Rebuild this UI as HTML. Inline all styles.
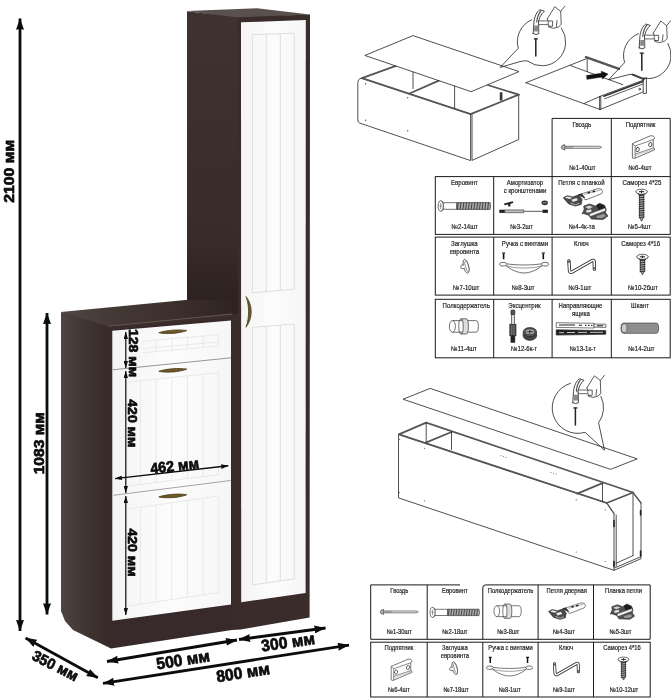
<!DOCTYPE html>
<html lang="ru"><head><meta charset="utf-8"><title>Шкаф — размеры и сборка</title>
<style>
html,body{margin:0;padding:0;background:#fff;width:671px;height:700px;overflow:hidden}
svg{display:block;position:absolute;left:0;top:0;filter:blur(0.45px)}
text{font-family:"Liberation Sans",sans-serif}
.dim{font-weight:bold;font-size:15px;fill:#0c0c0c;stroke:#0c0c0c;stroke-width:0.7px;stroke-linejoin:round}
.lbl{font-size:6.45px;fill:#222;stroke:#222;stroke-width:0.18px;text-anchor:middle}
.l2{font-size:6.2px}
.ln{fill:none;stroke:#222;stroke-width:0.8;stroke-linejoin:round;stroke-linecap:round}
.tb{fill:none;stroke:#1a1a1a;stroke-width:1}
</style></head>
<body>
<svg width="671" height="700" viewBox="0 0 671 700">
<defs>
<linearGradient id="sideG" x1="0" y1="0" x2="1" y2="0"><stop offset="0" stop-color="#4f4441"/><stop offset="0.45" stop-color="#423633"/><stop offset="1" stop-color="#352927"/></linearGradient>
<linearGradient id="topG" gradientUnits="userSpaceOnUse" x1="61" y1="0" x2="238" y2="0"><stop offset="0" stop-color="#504643"/><stop offset="0.3" stop-color="#453936"/><stop offset="0.7" stop-color="#3a2d2b"/><stop offset="1" stop-color="#2e2321"/></linearGradient>
<linearGradient id="tallG" x1="0" y1="0" x2="0" y2="1"><stop offset="0" stop-color="#3f3230"/><stop offset="0.75" stop-color="#382b29"/><stop offset="1" stop-color="#2a1f1d"/></linearGradient>
<linearGradient id="doorG" x1="0" y1="0" x2="1" y2="0"><stop offset="0" stop-color="#f4f4f4"/><stop offset="0.5" stop-color="#fcfcfc"/><stop offset="1" stop-color="#f6f6f6"/></linearGradient>
<marker id="ah" viewBox="0 0 11.5 8" refX="11.2" refY="4" markerWidth="11.5" markerHeight="8" markerUnits="userSpaceOnUse" orient="auto-start-reverse"><path d="M0,0 L11.5,4 L0,8 L0.8,4 Z" fill="#0c0c0c"/></marker>
<marker id="ahs" viewBox="0 0 7.5 4.6" refX="7.3" refY="2.3" markerWidth="7.5" markerHeight="4.6" markerUnits="userSpaceOnUse" orient="auto-start-reverse"><path d="M0,0 L7.5,2.3 L0,4.6 L0.6,2.3 Z" fill="#0c0c0c"/></marker>
</defs>
<rect width="671" height="700" fill="#fff"/>
<g id="furniture">
<!-- tall cabinet -->
<polygon points="187,11 257,8.3 310,14.6 238,18.5" fill="#5a514e"/>
<polygon points="187,11.2 239,17.6 239,320 187,320" fill="url(#tallG)"/>
<polygon points="238,17.4 310,14.6 309.6,617.4 240.5,629.6 232,630 232,314 238,314" fill="#3a2c2a"/>
<polygon points="241,22.3 305.8,20 305.6,593 241.2,602.3" fill="url(#doorG)"/>
<!-- door grooves -->
<g fill="none" stroke="#dedede" stroke-width="1">
<path d="M252.4,292.8 L252.4,34.6 L294.3,33.2 L294.3,289.2 Z"/>
<path d="M266.2,34.2 V291.6 M280.3,33.7 V290.4"/>
<path d="M252.4,327.4 L294.3,324 V578.8 L252.4,585 Z"/>
<path d="M266.2,326.3 V582 M280.3,325.1 V580"/>
</g>
<!-- door handle -->
<path d="M246,296.6 C248,302 248.4,306 248.6,311.6 C248.4,317 248,322 246,327.2 C249.6,322.5 251.2,317 251.2,311.8 C251.2,306.5 249.6,301 246,296.6 Z" fill="#6a5826" stroke="#4a3c18" stroke-width="0.8" stroke-linejoin="round"/>
<!-- low cabinet -->

<polygon points="61,312 108.4,320 108.4,329 111,648.6 73,630 65,621 61,611" fill="url(#sideG)"/>
<polygon points="108,325 232,313 232,630 111,648.6 108,640" fill="#38292a"/>
<polygon points="60.8,312 188,299.8 238,299.8 238,313.4 108.4,326.2" fill="url(#topG)"/>
<polygon points="108.4,326 232,313.8 232,317.6 108.4,330" fill="#3b2d2b"/>
<path d="M108.4,326.2 L232,314" stroke="#66564f" stroke-width="1" fill="none"/>
<polygon points="112.3,330.8 231,320.4 231,604.6 112.3,620.8" fill="url(#doorG)"/>
<path d="M112.8,369.8 L231,357.8" stroke="#8a8a8a" stroke-width="0.9" fill="none"/>
<path d="M113.5,495.3 L230.7,480.5" stroke="#9a9a9a" stroke-width="0.9" fill="none"/>
<g fill="none" stroke="#e6e6e6" stroke-width="0.9">
<path d="M142.6,341.3 L218.7,334.6"/>
<path d="M142.6,348.6 L218.7,341.9"/>
<path d="M142.6,352.8 L218.7,345.9"/>
<path d="M156.1,340.1 V351.5"/>
<path d="M171.8,338.7 V350.1"/>
<path d="M187.4,337.4 V348.7"/>
<path d="M203.1,336.0 V347.3"/>
<path d="M218.7,334.6 V345.9"/>
<path d="M128.0,382.0 L218.7,372.6"/>
<path d="M140.5,380.7 V484.4"/>
<path d="M156.1,379.1 V482.5"/>
<path d="M171.8,377.4 V480.5"/>
<path d="M187.4,375.8 V478.6"/>
<path d="M203.1,374.2 V476.6"/>
<path d="M218.7,372.6 V474.7"/>
<path d="M128,486 L218.7,474.6"/>
<path d="M128,509 L218.7,496"/>
<path d="M140.5,507.2 V604.2"/>
<path d="M156.1,505.0 V601.8"/>
<path d="M171.8,502.7 V599.5"/>
<path d="M187.4,500.5 V597.2"/>
<path d="M203.1,498.3 V594.9"/>
<path d="M218.7,496.0 V592.6"/>
<path d="M128,606 L218.7,592.6"/>
</g>
<!-- handles -->
<path d="M158.8,332.7 C166.8,330.0 178.8,329.2 186.8,330.5 C179.8,333.6 165.8,334.4 158.8,332.7 Z" fill="#6a5826" stroke="#4a3c18" stroke-width="0.8" stroke-linejoin="round"/>
<path d="M158.8,371.3 C166.8,368.6 178.8,367.8 186.8,369.1 C179.8,372.2 165.8,373.0 158.8,371.3 Z" fill="#6a5826" stroke="#4a3c18" stroke-width="0.8" stroke-linejoin="round"/>
<path d="M158.8,496.9 C166.8,494.2 178.8,493.4 186.8,494.7 C179.8,497.8 165.8,498.6 158.8,496.9 Z" fill="#6a5826" stroke="#4a3c18" stroke-width="0.8" stroke-linejoin="round"/>
</g>

<g id="dims" stroke="#0c0c0c" fill="none">
<line x1="20" y1="631" x2="20" y2="18.5" stroke-width="2.8" marker-end="url(#ah)" marker-start="url(#ah)"/>
<line x1="47" y1="614.5" x2="47" y2="313" stroke-width="2.8" marker-end="url(#ah)" marker-start="url(#ah)"/>
<line x1="25.6" y1="638" x2="97.8" y2="677.8" stroke-width="2.8" marker-end="url(#ah)" marker-start="url(#ah)"/>
<line x1="107" y1="661.5" x2="237" y2="640" stroke-width="2.8" marker-end="url(#ah)" marker-start="url(#ah)"/>
<line x1="239" y1="639.5" x2="325.5" y2="628" stroke-width="2.8" marker-end="url(#ah)" marker-start="url(#ah)"/>
<line x1="103" y1="683.4" x2="349" y2="645.1" stroke-width="2.8" marker-end="url(#ah)" marker-start="url(#ah)"/>
<line x1="115" y1="478.6" x2="228.3" y2="465.8" stroke-width="1.4" marker-end="url(#ahs)" marker-start="url(#ahs)"/>
<line x1="125.8" y1="332" x2="125.8" y2="368" stroke-width="1.2" marker-end="url(#ahs)" marker-start="url(#ahs)"/>
<line x1="125.8" y1="371" x2="125.8" y2="493" stroke-width="1.2" marker-end="url(#ahs)" marker-start="url(#ahs)"/>
<line x1="125.8" y1="496" x2="125.8" y2="615" stroke-width="1.2" marker-end="url(#ahs)" marker-start="url(#ahs)"/>
</g>
<g class="dim">
<text transform="translate(13.9,171.3) rotate(-90)" text-anchor="middle" textLength="63" lengthAdjust="spacingAndGlyphs" font-size="14.5">2100 мм</text>
<text transform="translate(44,443.3) rotate(-90)" text-anchor="middle" textLength="62" lengthAdjust="spacingAndGlyphs" font-size="14.9">1083 мм</text>
<text transform="translate(55.4,665.6) rotate(27)" text-anchor="middle" textLength="49.5" lengthAdjust="spacingAndGlyphs" dy="5.3" font-size="15">350 мм</text>
<text transform="translate(183,659.6) rotate(-9)" text-anchor="middle" textLength="54" lengthAdjust="spacingAndGlyphs" dy="5.8" font-size="16.4">500 мм</text>
<text transform="translate(288,642) rotate(-8)" text-anchor="middle" textLength="54" lengthAdjust="spacingAndGlyphs" dy="5.8" font-size="16.4">300 мм</text>
<text transform="translate(243,672.4) rotate(-8.8)" text-anchor="middle" textLength="54" lengthAdjust="spacingAndGlyphs" dy="5.8" font-size="16.4">800 мм</text>
<text transform="translate(174.6,465.5) rotate(-6.5)" text-anchor="middle" textLength="49" lengthAdjust="spacingAndGlyphs" dy="5.5">462 мм</text>
<text transform="translate(129.3,353) rotate(90)" text-anchor="middle" textLength="48" lengthAdjust="spacingAndGlyphs" font-size="13.7">128 мм</text>
<text transform="translate(128,423.3) rotate(90)" text-anchor="middle" textLength="48" lengthAdjust="spacingAndGlyphs" font-size="13.7">420 мм</text>
<text transform="translate(128,552.5) rotate(90)" text-anchor="middle" textLength="48" lengthAdjust="spacingAndGlyphs" font-size="13.7">420 мм</text>
</g>

<g id="asm1" class="ln">
<!-- box -->
<path d="M357.8,83 Q357.8,78.6 361.5,78.2 L470.6,114.1 L470.6,160.6 L359.5,123 Q357.8,122.3 357.8,120.5 Z"/>
<path d="M472,114.3 V160.4 L518.7,139.5 V94.7"/>
<path d="M470.6,114.1 L518.7,94.7" stroke-width="1.8" stroke="#555"/>
<path d="M362,78.2 L470.6,114.1" stroke-width="1.8" stroke="#555"/>
<path d="M487.7,85 L518.7,94.7" stroke-width="1.8" stroke="#555"/>
<path d="M362,78.2 L396.5,65.6" stroke-width="1.8" stroke="#555"/>
<path d="M409.5,93.5 L439.4,80.4" stroke-width="1.8" stroke="#555"/>
<path d="M413,71.8 V88.6 M454.6,85.8 V108"/>
<rect x="499.8" y="92.3" width="2.6" height="8.2" fill="#333" stroke="none"/>
<g fill="#555" stroke="none"><circle cx="365.6" cy="83.7" r="0.7"/><circle cx="365.6" cy="120.2" r="0.7"/><circle cx="407.7" cy="97.8" r="0.7"/><circle cx="407.7" cy="130.7" r="0.7"/></g>
<!-- panel -->
<path d="M365.2,55.3 L413,35.6 L519,71.6 L471.5,91.5 Z" fill="#fff"/>
<!-- balloon 1 -->
<path d="M531.5,19.8 A23.9,23.9 0 0 0 518.3,48.2 L500.2,67.4 L520,61.6 Q524,60.4 527.5,61 A23.9,23.9 0 0 0 561.3,28"/>
<!-- drawer assembly -->
<path d="M525.9,82.7 L585.9,58.9"/>
<path d="M525.9,82.7 L600,109.5"/>
<path d="M584,103.6 L600,96.4 L643,80.3"/>
<path d="M570.2,65.5 L609,79.7 L622.7,84.6"/>
<path d="M587.2,58 V71.6"/>
<path d="M585.9,57.2 L619,68.8" stroke-width="2.4" stroke="#555"/>
<path d="M632.3,74.6 L644,79.4" stroke-width="1.8" stroke="#555"/>
<path d="M599.6,96.4 V109.5 M600.8,96.2 V109.3" />
<path d="M600,109.5 L643.5,91.8"/>
<path d="M643.2,78.4 V92 M646.4,78 V93.2 L643.4,93.6 M643.2,78.4 L646.4,78"/>
<path d="M603.8,96.2 L643,81.6" stroke-width="1.6" stroke="#333"/>
<path d="M604.6,98.8 L643,84" stroke-width="0.8" stroke="#333"/>
<circle cx="639.7" cy="89.2" r="0.9"/>
<path d="M586.6,75.6 L601.5,73.2 L601.2,71.2 L608,74 L602.4,79 L602.1,76.9 L587.2,79.3 Z" fill="#111" stroke="#111" stroke-width="0.5"/>
<!-- balloon 2 -->
<path d="M638.4,33.6 A23.5,23.5 0 0 0 624.6,62.6 L608.6,79.7 L629,74.6 Q632.5,73.8 635,75 A23.5,23.5 0 0 0 668,43.5" fill="none"/>
</g>
<g id="hammers">
<g id="hm1" class="ln">
<path d="M535.8,39.2 V56" stroke-width="1.5" stroke="#222"/>
<path d="M534.2,38.8 H537.4" stroke-width="1.2" stroke="#222"/>
<path d="M533.2,33.6 L533.9,22.4 C534.5,16 537,11.5 539.9,9.7 L544.4,11.2 C541,14 539,18 538.6,22.4 L538.8,33.6 Q536,35.6 533.2,33.6 Z" fill="#fff" stroke="#333" stroke-width="0.9"/>
<path d="M534.3,25.6 H538.4 V31.4 H534.1 Z" fill="#8a8a8a" stroke="none"/>
<path d="M540.8,10.8 C538.6,13.5 537.2,17.5 536.8,22" stroke="#555" stroke-width="1.2"/>
<path d="M538.9,20.9 H548.2 V24.6 H538.9 Z" fill="#fff" stroke="#444" stroke-width="0.8"/>
<path d="M547.3,18.8 L554.8,6.7 L560.7,11.4 L564.8,6.3 M560.7,11.4 L561.2,24.4 Q559,28 553.3,28.3 L548.6,27 V25 M547.3,18.8 L548.4,21 H552.6 V26.2 H549 M557,20.5 L556.4,26.4" stroke="#333" stroke-width="0.8"/>
</g>
<use href="#hm1" x="106" y="14.3"/>
</g>

<g id="table1" transform="translate(0.2,0.4)">
<g class="tb">
<path d="M551.9,118.0 H670.0 V176.2"/>
<path d="M551.9,118.0 V176.2 M611.1,118.0 V176.2"/>
<rect x="435.1" y="176.2" width="234.9" height="57.8"/>
<path d="M493.5,176.2 V234.0"/>
<path d="M551.9,176.2 V234.0"/>
<path d="M611.1,176.2 V234.0"/>
<rect x="435.1" y="236.7" width="234.9" height="58.0"/>
<path d="M493.5,236.7 V294.7"/>
<path d="M551.9,236.7 V294.7"/>
<path d="M611.1,236.7 V294.7"/>
<rect x="435.1" y="298.9" width="234.9" height="58.5"/>
<path d="M493.5,298.9 V357.4"/>
<path d="M551.9,298.9 V357.4"/>
<path d="M611.1,298.9 V357.4"/>
</g>
<text transform="translate(581.6,126.6) scale(0.94,1.07)" class="lbl">Гвоздь</text>
<text transform="translate(582.2,170.0) scale(0.94,1.07)" class="lbl">№1-40шт</text>
<text transform="translate(640.4,126.6) scale(0.94,1.07)" class="lbl">Подпятник</text>
<text transform="translate(639.8,170.0) scale(0.94,1.07)" class="lbl">№6-4шт</text>
<g transform="translate(581.2,146.9)"><g class="ic"><path d="M-16.8,-1.05 H18.2 L20.3,0 L18.2,1.05 H-16.8 Z" fill="#e4e4e4" stroke="#333" stroke-width="0.6"/><path d="M-16.6,-2.7 Q-20.2,-2.2 -20.2,0 Q-20.2,2.2 -16.6,2.7 Z" fill="#b5b5b5" stroke="#333" stroke-width="0.6"/><path d="M-15,-1 V1 M-13.5,-1 V1 M-12,-1 V1 M-10.5,-1 V1 M-9,-1 V1" stroke="#555" stroke-width="0.5" fill="none"/></g></g>
<g transform="translate(643.4,146.5)"><g class="ic" fill="#fff" stroke="#333" stroke-width="0.7" stroke-linejoin="round"><path d="M-11.2,-3.4 L6.8,-11.1 Q10,-11.8 10.9,-9.4 Q11,-7.8 9.6,-7.2 V1 Q11.4,1.2 10.9,3 L-9.4,11.6 L-11.2,11 Z"/><path d="M-8.5,-0.9 L9.6,-7.3 M-8.5,7.2 L9.6,1.1 M-8.5,-0.9 V11.2 M-11.2,-3.4 L-8.5,-0.9" fill="none" stroke-width="0.6"/><path d="M-8.5,9 L10.6,1.8" fill="none" stroke-width="0.4" stroke="#777"/><ellipse cx="-6" cy="2.6" rx="1.6" ry="2.2" transform="rotate(15 -6 2.6)" stroke-width="0.8"/><ellipse cx="6.7" cy="-2.3" rx="1.6" ry="2.2" transform="rotate(15 6.7 -2.3)" stroke-width="0.8"/></g></g>
<text transform="translate(464.2,184.7) scale(0.94,1.07)" class="lbl">Евровинт</text>
<text transform="translate(464.5,228.3) scale(0.94,1.07)" class="lbl">№2-14шт</text>
<text transform="translate(524.8,184.7) scale(0.94,1.07)" class="lbl">Амортизатор</text>
<text transform="translate(524.8,192.6) scale(0.94,1.07)" class="lbl">с кронштенами</text>
<text transform="translate(521.5,228.3) scale(0.94,1.07)" class="lbl">№3-2шт</text>
<text transform="translate(581.2,184.7) scale(0.94,1.07)" class="lbl">Петля с планкой</text>
<text transform="translate(581.6,228.3) scale(0.94,1.07)" class="lbl">№4-4к-та</text>
<text transform="translate(641.7,184.7) scale(0.94,1.07)" class="lbl">Саморез 4*25</text>
<text transform="translate(639.3,228.3) scale(0.94,1.07)" class="lbl">№5-4шт</text>
<g transform="translate(464.4,205.6)"><g class="ic" stroke="#333" stroke-width="0.7"><path d="M-8,-3.4 H25.5 Q26.6,0 25.5,3.4 H-8 Z" fill="#aaa" stroke="#333"/><path d="M-6.3,-3.4 L-7.2,3.4" stroke="#333" stroke-width="0.9" fill="none"/><path d="M-3.6,-3.4 L-4.5,3.4" stroke="#333" stroke-width="0.9" fill="none"/><path d="M-0.8,-3.4 L-1.7,3.4" stroke="#333" stroke-width="0.9" fill="none"/><path d="M1.9,-3.4 L1.0,3.4" stroke="#333" stroke-width="0.9" fill="none"/><path d="M4.7,-3.4 L3.8,3.4" stroke="#333" stroke-width="0.9" fill="none"/><path d="M7.5,-3.4 L6.5,3.4" stroke="#333" stroke-width="0.9" fill="none"/><path d="M10.2,-3.4 L9.3,3.4" stroke="#333" stroke-width="0.9" fill="none"/><path d="M13.0,-3.4 L12.1,3.4" stroke="#333" stroke-width="0.9" fill="none"/><path d="M15.7,-3.4 L14.8,3.4" stroke="#333" stroke-width="0.9" fill="none"/><path d="M18.4,-3.4 L17.6,3.4" stroke="#333" stroke-width="0.9" fill="none"/><path d="M21.2,-3.4 L20.3,3.4" stroke="#333" stroke-width="0.9" fill="none"/><path d="M23.9,-3.4 L23.1,3.4" stroke="#333" stroke-width="0.9" fill="none"/><path d="M-21.4,-3.3 H-8 V3.3 H-21.4 Z" fill="#fff"/><ellipse cx="-23.9" cy="0" rx="2.6" ry="5.4" fill="#fff"/><path d="M-23.9,-3 V3 M-25.2,0 H-22.6" fill="none" stroke-width="0.5"/><path d="M-23.2,-5.2 L-21.4,-3.3 M-23.2,5.2 L-21.4,3.3" fill="none"/></g></g>
<g transform="translate(523.5,206.0)"><g class="ic"><path d="M-19,3.5 H0 V6.3 H-19 Z" fill="#bbb" stroke="#333" stroke-width="0.6"/><path d="M0,4.9 H19" stroke="#444" stroke-width="0.9" fill="none"/><rect x="-24.4" y="3.3" width="5.4" height="3.2" fill="#222"/><rect x="18.8" y="3.3" width="5.4" height="3.2" fill="#222"/><path d="M-19.6,-3 L-11,-5.2 L-10.2,-3.6 L-13.4,-2.4 L-13.2,0.2 L-15.4,0.2 L-15.6,-1.8 L-19.2,-1.2 Z" fill="#222"/><ellipse cx="21" cy="-3.6" rx="3.2" ry="2.4" fill="#333"/><path d="M19.2,-3.6 H22.8" stroke="#ddd" stroke-width="0.6"/></g></g>
<g transform="translate(585.0,203.5)"><g transform="translate(-2.3,-6.8)"><g class="ic" stroke="#222" stroke-width="0.6" stroke-linejoin="round"><path d="M-19.6,0.7 L-15.8,-1.4 L-10,-0.2 L-4.2,-2.3 L-0.8,2.3 L-1.7,7.3 L-7.5,9 L-14.2,6.9 L-17.5,3.2 Z" fill="#4a4a4a"/><path d="M-18,0.6 L-15.6,-0.6 L-10.6,0.6 L-13,2 Z" fill="#f2f2f2" stroke="none"/><path d="M-11.6,2.6 L-6.4,1 L-5,3.2 L-10,5 Z" fill="#e8e8e8" stroke="none"/><path d="M-12.4,6 L-7.6,7.6 L-3.4,6.2" fill="none" stroke="#ddd" stroke-width="0.7"/><path d="M-4.2,-2.3 L15,-8.5 L18.4,-8.1 L19.6,-5.6 L18.8,-3.5 L4.2,2.3 L2.1,2.7 L0,-0.2 Z" fill="#fff"/><path d="M-4.2,-2.3 L-1.2,-3.3 L2,0.6 L0,-0.2 Z" fill="#333"/><path d="M1.5,-2.6 L17.6,-7.2" fill="none" stroke="#555" stroke-width="0.5"/><rect x="4.8" y="-5.3" width="2.3" height="1.7" fill="#222" stroke="none" transform="rotate(-17 5.9 -4.4)"/><rect x="9.8" y="-6.5" width="2.3" height="1.7" fill="#222" stroke="none" transform="rotate(-17 10.9 -5.6)"/></g></g><g transform="translate(10.2,7.8)"><g class="ic" stroke="#222" stroke-width="0.6" stroke-linejoin="round"><path d="M-11.7,-5.6 L-5.8,-7.7 L0,-5.6 L4.2,-8.5 L9.2,-6.4 L10.9,-2.3 L10.1,1.1 L12.6,4.4 L7.5,7.8 L-4.1,7.3 L-6.6,3.6 L-11.7,1.9 L-13.3,2.3 L-11.2,-2.3 Z" fill="#505050"/><path d="M0.9,-6.6 L4.4,-8 L8.8,-6 L9.6,-3.6 L3,-1.6 Z" fill="#1e1e1e" stroke="none"/><path d="M-6.2,2.2 L9.8,-3.6 L10.2,-1 L-5.2,4.8 Z" fill="#f4f4f4" stroke="#333" stroke-width="0.4"/><path d="M-10.4,-4.6 L-6,-6.2 L-2.4,-4.8 L-6.8,-2.8 Z" fill="#cfcfcf" stroke="none"/><path d="M-9.4,-1.2 L-4.4,-2.4 L-3.8,0 L-8.6,1 Z" fill="#e2e2e2" stroke="none"/><path d="M1,4.4 L8.4,2.4 L10.4,4.4 L6.4,6.4 L1.6,6.2 Z" fill="#9a9a9a" stroke="none"/></g></g></g>
<g transform="translate(641.4,191.3)"><g class="ic" stroke="#222" stroke-width="0.7"><path d="M-2.1,2 L-2.1,25.5 L0,29.5 L2.1,25.5 L2.1,2 Z" fill="#aaa"/><path d="M-2.9,4.0 L2.9,3.2" stroke="#222" stroke-width="0.9" fill="none"/><path d="M-2.9,6.2 L2.9,5.4" stroke="#222" stroke-width="0.9" fill="none"/><path d="M-2.9,8.4 L2.9,7.6" stroke="#222" stroke-width="0.9" fill="none"/><path d="M-2.9,10.6 L2.9,9.8" stroke="#222" stroke-width="0.9" fill="none"/><path d="M-2.9,12.8 L2.9,12.0" stroke="#222" stroke-width="0.9" fill="none"/><path d="M-2.9,15.0 L2.9,14.2" stroke="#222" stroke-width="0.9" fill="none"/><path d="M-2.9,17.2 L2.9,16.4" stroke="#222" stroke-width="0.9" fill="none"/><path d="M-2.9,19.4 L2.9,18.6" stroke="#222" stroke-width="0.9" fill="none"/><path d="M-2.9,21.6 L2.9,20.8" stroke="#222" stroke-width="0.9" fill="none"/><path d="M-2.9,23.8 L2.9,23.0" stroke="#222" stroke-width="0.9" fill="none"/><path d="M-2.9,26.0 L2.9,25.2" stroke="#222" stroke-width="0.9" fill="none"/><path d="M-5.6,0 Q-4,2.6 -2,3 H2 Q4,2.6 5.6,0 Z" fill="#8a8a8a"/><ellipse cx="0" cy="0" rx="5.7" ry="2.5" fill="#fff"/><path d="M-2.6,0 H2.6 M0,-1.3 V1.3" stroke-width="1" fill="none"/></g></g>
<text transform="translate(464.2,245.4) scale(0.94,1.07)" class="lbl">Заглушка</text>
<text transform="translate(464.2,253.5) scale(0.94,1.07)" class="lbl">евровинта</text>
<text transform="translate(466.0,289.2) scale(0.94,1.07)" class="lbl">№7-10шт</text>
<text transform="translate(524.8,245.4) scale(0.94,1.07)" class="lbl">Ручка с винтами</text>
<text transform="translate(523.0,289.2) scale(0.94,1.07)" class="lbl">№8-3шт</text>
<text transform="translate(581.2,245.4) scale(0.94,1.07)" class="lbl">Ключ</text>
<text transform="translate(579.7,289.2) scale(0.94,1.07)" class="lbl">№9-1шт</text>
<text transform="translate(640.4,245.4) scale(0.94,1.07)" class="lbl">Саморез 4*16</text>
<text transform="translate(642.7,289.2) scale(0.94,1.07)" class="lbl">№10-26шт</text>
<g transform="translate(465.3,266.0)"><g class="ic" stroke="#333" stroke-width="0.7" fill="#fff"><ellipse cx="0.6" cy="0" rx="2.6" ry="7" transform="rotate(-14)"/><ellipse cx="1.4" cy="0.2" rx="1.5" ry="5.6" transform="rotate(-14)" stroke-width="0.5"/><path d="M-1.4,-1.4 H-3.6 Q-4.8,-1.2 -4.8,0.6 Q-4.8,2.2 -3.4,2.2 H-1" /></g></g>
<g transform="translate(523.9,264.0)"><g class="ic" stroke="#333" stroke-width="0.7" fill="#fff" stroke-linejoin="round"><path d="M-20.5,-1.2 C-10,1.2 10,1.2 20.5,-1.2 C14,6 5,8.6 0,8.6 C-5,8.6 -14,6 -20.5,-1.2 Z"/><path d="M-17.5,1.4 C-9,4.4 9,4.4 17.5,1.4" fill="none" stroke-width="0.5"/><ellipse cx="-21" cy="-0.2" rx="3.6" ry="1.9"/><ellipse cx="21" cy="-0.2" rx="3.6" ry="1.9"/><path d="M-20.5,-10.4 V-5.2 M19.2,-10.4 V-5.2" stroke="#111" stroke-width="1.6" fill="none"/><path d="M-22,-11.2 H-19 M17.7,-11.2 H20.7" stroke="#111" stroke-width="1.2" fill="none"/></g></g>
<g transform="translate(581.3,265.8)"><g class="ic" fill="none" stroke-linejoin="round" stroke-linecap="round"><path d="M-12.6,-5.4 L-12,4.6 Q-11.6,7 -9.4,5.8 L10.6,-5.6 Q12.6,-6.6 12.7,-4.4 L12.9,3" stroke="#2a2a2a" stroke-width="3.3"/><path d="M-12.6,-5.4 L-12,4.6 Q-11.6,7 -9.4,5.8 L10.6,-5.6 Q12.6,-6.6 12.7,-4.4 L12.9,3" stroke="#fff" stroke-width="1.6"/><path d="M-12.6,-5.6 L-12.5,-3.6 M12.85,1.2 L12.9,3" stroke="#555" stroke-width="2.6" stroke-linecap="butt"/></g></g>
<g transform="translate(642.3,256.4)"><g class="ic" stroke="#222" stroke-width="0.7"><path d="M-2.1,2 L-2.1,14.0 L0,18.0 L2.1,14.0 L2.1,2 Z" fill="#aaa"/><path d="M-2.9,4.0 L2.9,3.2" stroke="#222" stroke-width="0.9" fill="none"/><path d="M-2.9,6.2 L2.9,5.4" stroke="#222" stroke-width="0.9" fill="none"/><path d="M-2.9,8.4 L2.9,7.6" stroke="#222" stroke-width="0.9" fill="none"/><path d="M-2.9,10.6 L2.9,9.8" stroke="#222" stroke-width="0.9" fill="none"/><path d="M-2.9,12.8 L2.9,12.0" stroke="#222" stroke-width="0.9" fill="none"/><path d="M-2.9,15.0 L2.9,14.2" stroke="#222" stroke-width="0.9" fill="none"/><path d="M-5.6,0 Q-4,2.6 -2,3 H2 Q4,2.6 5.6,0 Z" fill="#8a8a8a"/><ellipse cx="0" cy="0" rx="5.7" ry="2.5" fill="#fff"/><path d="M-2.6,0 H2.6 M0,-1.3 V1.3" stroke-width="1" fill="none"/></g></g>
<text transform="translate(466.0,307.3) scale(0.94,1.07)" class="lbl">Полкодержатель</text>
<text transform="translate(463.8,350.7) scale(0.94,1.07)" class="lbl">№11-4шт</text>
<text transform="translate(524.3,307.3) scale(0.94,1.07)" class="lbl">Эксцентрик</text>
<text transform="translate(523.9,350.7) scale(0.94,1.07)" class="lbl">№12-6к-т</text>
<text transform="translate(580.3,307.3) scale(0.94,1.07)" class="lbl">Направляющие</text>
<text transform="translate(580.7,315.4) scale(0.94,1.07)" class="lbl">ящика</text>
<text transform="translate(582.6,350.7) scale(0.94,1.07)" class="lbl">№13-1к-т</text>
<text transform="translate(639.8,307.3) scale(0.94,1.07)" class="lbl">Шкант</text>
<text transform="translate(641.2,350.7) scale(0.94,1.07)" class="lbl">№14-2шт</text>
<g transform="translate(463.6,326.0)"><g class="ic" stroke="#333" stroke-width="0.7" fill="#fff"><path d="M-11.4,-5.8 H12 Q14.6,-5.8 14.6,0 Q14.6,5.8 12,5.8 H-11.4 Z"/><ellipse cx="-11.4" cy="0" rx="3" ry="5.8"/><path d="M-2.8,-7.6 H2.4 Q4.6,-7.6 4.6,0 Q4.6,7.6 2.4,7.6 H-2.8 Q-0.6,7.6 -0.6,0 Q-0.6,-7.6 -2.8,-7.6 Z" fill="#ddd"/><path d="M-2.8,-7.6 Q-5,-7.6 -5,0 Q-5,7.6 -2.8,7.6" fill="none"/></g></g>
<g transform="translate(521.0,326.0)"><g class="ic" stroke="#222" stroke-width="0.6"><rect x="-9.7" y="-12" width="2.8" height="10" fill="#ddd"/><rect x="-10.3" y="-16.4" width="4" height="4.6" rx="1" fill="#555"/><rect x="-11.4" y="-2.2" width="6.2" height="11.6" fill="#444"/><path d="M-9.4,-1.6 V8.8 M-7.2,-1.6 V8.8" stroke="#aaa" stroke-width="0.6"/><rect x="-10.3" y="9.4" width="4" height="6.6" fill="#222"/><ellipse cx="8.7" cy="9.4" rx="6.7" ry="4.6" fill="#444"/><path d="M2,5.4 V9.4 M15.4,5.4 V9.4" /><ellipse cx="8.7" cy="5.6" rx="6.7" ry="4.6" fill="#555"/><ellipse cx="8.7" cy="5.4" rx="4.6" ry="2.8" fill="#bbb"/><path d="M5.4,5.4 H12 M8.7,3.4 V7.4" stroke="#222" stroke-width="1"/></g></g>
<g transform="translate(580.8,328.5)"><g class="ic" stroke="#222" stroke-width="0.6"><path d="M-24.8,-6.2 L13,-5.6 V-0.9 L-24.8,-1.5 Z" fill="#fff"/><path d="M13,-4.9 L24.8,-4.7 V-1.5 L13,-1.7 Z" fill="#eee"/><path d="M-22,-3.9 H-6 M-2,-3.6 H1 M4,-3.5 H5.4 M7,-3.5 H8.4 M10,-3.4 H11.4 M16,-3.2 H22" stroke="#222" stroke-width="1.1" fill="none"/><path d="M-24.8,0.9 L24.8,1.7 V5.4 L-24.8,6.2 Z" fill="#222"/><path d="M-22,3.8 H-17 M-14,3.6 H-6 M-3,3.5 H6 M9,3.4 H22" stroke="#eee" stroke-width="0.8" fill="none"/></g></g>
<g transform="translate(639.6,327.8)"><g class="ic" stroke="#333" stroke-width="0.7"><path d="M-16,-5.1 H16.4 Q18.8,-5.1 18.8,0 Q18.8,5.1 16.4,5.1 H-16 Q-18.8,5.1 -18.8,0 Q-18.8,-5.1 -16,-5.1 Z" fill="#9a9a9a"/><path d="M-13,-3.2 H17.5" stroke="#777" stroke-width="0.5" fill="none"/><path d="M-13,-1.6 H17.5" stroke="#777" stroke-width="0.5" fill="none"/><path d="M-13,0.0 H17.5" stroke="#777" stroke-width="0.5" fill="none"/><path d="M-13,1.6 H17.5" stroke="#777" stroke-width="0.5" fill="none"/><path d="M-13,3.2 H17.5" stroke="#777" stroke-width="0.5" fill="none"/><ellipse cx="-15.6" cy="0" rx="2.8" ry="4.4" fill="#ccc" stroke-width="0.5"/></g></g>
</g>

<g id="asm2" class="ln">
<!-- box front face -->
<path d="M398.9,434.4 L606.7,503 L614,513.5 V570.3 L398.9,498 Z"/>
<!-- right end -->
<path d="M633,492.5 L641,503 V558.7 L614.2,570.3"/>
<path d="M614.6,568 L640.6,556.8 M616.2,563.2 L633,555.6 M633,493 V555.6 M616.2,515 V566"/>
<!-- rims -->
<g stroke-width="1.7" stroke="#555">
<path d="M398.9,434.4 L606.7,503"/>
<path d="M398.9,434.4 L426.2,422.6"/>
<path d="M426.2,422.6 L633,492.5"/>
<path d="M606.7,503 L633,492.5"/>
<path d="M425.8,442.6 L451.5,432"/>
<path d="M577.3,493.6 L602.5,483.1"/>
<path d="M606.7,503 L614,513.5 M633,492.5 L641,503" stroke-width="1.3"/>
</g>
<path d="M426.2,423 V441.8 M451.5,432 V449.5 M602.5,483.5 V501.5"/>
<g stroke="#222" stroke-width="1.6"><path d="M614,520.5 V526.5 M614,561.5 V566.5 M640.6,510.5 V515 M640.6,551 V556"/></g>
<g fill="#555" stroke="none">
<circle cx="399.6" cy="439.5" r="0.6"/><circle cx="399.6" cy="492.5" r="0.6"/>
<circle cx="424.4" cy="448.3" r="0.6"/><circle cx="424.4" cy="500.8" r="0.6"/>
<circle cx="576.2" cy="499.9" r="0.6"/><circle cx="605.2" cy="509.8" r="0.6"/>
<circle cx="576.2" cy="552" r="0.6"/><circle cx="605.2" cy="561.5" r="0.6"/>
<circle cx="501" cy="455.8" r="0.5"/><circle cx="503.6" cy="456.6" r="0.5"/><circle cx="506.2" cy="457.4" r="0.5"/>
<circle cx="551" cy="472.6" r="0.5"/><circle cx="553.6" cy="473.3" r="0.5"/><circle cx="556.2" cy="474" r="0.5"/>
</g>
<!-- panel -->
<path d="M403.4,399.1 L430.2,388.4 L637.2,458.9 L610.9,469.2 Z" fill="#fff"/>
<!-- balloon 3 -->
<path d="M570.5,383.3 A25.5,25.5 0 1 0 585.1,432.3 L604.5,450.2 L598.6,422.8 A25.5,25.5 0 0 0 601,396.5" fill="none"/>
<use href="#hm1" x="39.6" y="369.1"/>
</g>

<g id="table2" transform="translate(0,0.4)">
<g class="tb">
<path d="M460,584.5 H370.7 V638.9 H650.2 V584.5 H485.8 Q482.8,584.5 482.8,587.5"/>
<path d="M427.2,584.5 V638.9"/>
<path d="M482.8,587.5 V638.9"/>
<path d="M538.1,584.5 V638.9"/>
<path d="M593.5,584.5 V638.9"/>
<rect x="370.7" y="641.8" width="279.5" height="54.8"/>
<path d="M427.2,641.8 V696.6"/>
<path d="M482.8,641.8 V696.6"/>
<path d="M538.1,641.8 V696.6"/>
<path d="M593.5,641.8 V696.6"/>
</g>
<text transform="translate(399.3,592.3) scale(0.94,1.07)" class="lbl l2">Гвоздь</text>
<text transform="translate(399.3,633.5) scale(0.94,1.07)" class="lbl l2">№1-30шт</text>
<text transform="translate(454.9,592.3) scale(0.94,1.07)" class="lbl l2">Евровинт</text>
<text transform="translate(454.9,633.5) scale(0.94,1.07)" class="lbl l2">№2-18шт</text>
<text transform="translate(510.5,592.3) scale(0.94,1.07)" class="lbl l2">Полкодержатель</text>
<text transform="translate(508.3,633.5) scale(0.94,1.07)" class="lbl l2">№3-8шт</text>
<text transform="translate(566.8,592.3) scale(0.94,1.07)" class="lbl l2">Петля дверная</text>
<text transform="translate(563.9,633.5) scale(0.94,1.07)" class="lbl l2">№4-3шт</text>
<text transform="translate(623.5,592.3) scale(0.94,1.07)" class="lbl l2">Планка петли</text>
<text transform="translate(620.4,633.5) scale(0.94,1.07)" class="lbl l2">№5-3шт</text>
<g transform="translate(399.2,611.5) scale(0.940)"><g class="ic"><path d="M-16.8,-1.05 H18.2 L20.3,0 L18.2,1.05 H-16.8 Z" fill="#e4e4e4" stroke="#333" stroke-width="0.6"/><path d="M-16.6,-2.7 Q-20.2,-2.2 -20.2,0 Q-20.2,2.2 -16.6,2.7 Z" fill="#b5b5b5" stroke="#333" stroke-width="0.6"/><path d="M-15,-1 V1 M-13.5,-1 V1 M-12,-1 V1 M-10.5,-1 V1 M-9,-1 V1" stroke="#555" stroke-width="0.5" fill="none"/></g></g>
<g transform="translate(455.0,612.0) scale(0.940)"><g class="ic" stroke="#333" stroke-width="0.7"><path d="M-8,-3.4 H25.5 Q26.6,0 25.5,3.4 H-8 Z" fill="#aaa" stroke="#333"/><path d="M-6.3,-3.4 L-7.2,3.4" stroke="#333" stroke-width="0.9" fill="none"/><path d="M-3.6,-3.4 L-4.5,3.4" stroke="#333" stroke-width="0.9" fill="none"/><path d="M-0.8,-3.4 L-1.7,3.4" stroke="#333" stroke-width="0.9" fill="none"/><path d="M1.9,-3.4 L1.0,3.4" stroke="#333" stroke-width="0.9" fill="none"/><path d="M4.7,-3.4 L3.8,3.4" stroke="#333" stroke-width="0.9" fill="none"/><path d="M7.5,-3.4 L6.5,3.4" stroke="#333" stroke-width="0.9" fill="none"/><path d="M10.2,-3.4 L9.3,3.4" stroke="#333" stroke-width="0.9" fill="none"/><path d="M13.0,-3.4 L12.1,3.4" stroke="#333" stroke-width="0.9" fill="none"/><path d="M15.7,-3.4 L14.8,3.4" stroke="#333" stroke-width="0.9" fill="none"/><path d="M18.4,-3.4 L17.6,3.4" stroke="#333" stroke-width="0.9" fill="none"/><path d="M21.2,-3.4 L20.3,3.4" stroke="#333" stroke-width="0.9" fill="none"/><path d="M23.9,-3.4 L23.1,3.4" stroke="#333" stroke-width="0.9" fill="none"/><path d="M-21.4,-3.3 H-8 V3.3 H-21.4 Z" fill="#fff"/><ellipse cx="-23.9" cy="0" rx="2.6" ry="5.4" fill="#fff"/><path d="M-23.9,-3 V3 M-25.2,0 H-22.6" fill="none" stroke-width="0.5"/><path d="M-23.2,-5.2 L-21.4,-3.3 M-23.2,5.2 L-21.4,3.3" fill="none"/></g></g>
<g transform="translate(507.5,610.8) scale(0.940)"><g class="ic" stroke="#333" stroke-width="0.7" fill="#fff"><path d="M-11.4,-5.8 H12 Q14.6,-5.8 14.6,0 Q14.6,5.8 12,5.8 H-11.4 Z"/><ellipse cx="-11.4" cy="0" rx="3" ry="5.8"/><path d="M-2.8,-7.6 H2.4 Q4.6,-7.6 4.6,0 Q4.6,7.6 2.4,7.6 H-2.8 Q-0.6,7.6 -0.6,0 Q-0.6,-7.6 -2.8,-7.6 Z" fill="#ddd"/><path d="M-2.8,-7.6 Q-5,-7.6 -5,0 Q-5,7.6 -2.8,7.6" fill="none"/></g></g>
<g transform="translate(567.0,610.5) scale(0.940)"><g class="ic" stroke="#222" stroke-width="0.6" stroke-linejoin="round"><path d="M-19.6,0.7 L-15.8,-1.4 L-10,-0.2 L-4.2,-2.3 L-0.8,2.3 L-1.7,7.3 L-7.5,9 L-14.2,6.9 L-17.5,3.2 Z" fill="#4a4a4a"/><path d="M-18,0.6 L-15.6,-0.6 L-10.6,0.6 L-13,2 Z" fill="#f2f2f2" stroke="none"/><path d="M-11.6,2.6 L-6.4,1 L-5,3.2 L-10,5 Z" fill="#e8e8e8" stroke="none"/><path d="M-12.4,6 L-7.6,7.6 L-3.4,6.2" fill="none" stroke="#ddd" stroke-width="0.7"/><path d="M-4.2,-2.3 L15,-8.5 L18.4,-8.1 L19.6,-5.6 L18.8,-3.5 L4.2,2.3 L2.1,2.7 L0,-0.2 Z" fill="#fff"/><path d="M-4.2,-2.3 L-1.2,-3.3 L2,0.6 L0,-0.2 Z" fill="#333"/><path d="M1.5,-2.6 L17.6,-7.2" fill="none" stroke="#555" stroke-width="0.5"/><rect x="4.8" y="-5.3" width="2.3" height="1.7" fill="#222" stroke="none" transform="rotate(-17 5.9 -4.4)"/><rect x="9.8" y="-6.5" width="2.3" height="1.7" fill="#222" stroke="none" transform="rotate(-17 10.9 -5.6)"/></g></g>
<g transform="translate(622.8,611.6) scale(0.940)"><g class="ic" stroke="#222" stroke-width="0.6" stroke-linejoin="round"><path d="M-11.7,-5.6 L-5.8,-7.7 L0,-5.6 L4.2,-8.5 L9.2,-6.4 L10.9,-2.3 L10.1,1.1 L12.6,4.4 L7.5,7.8 L-4.1,7.3 L-6.6,3.6 L-11.7,1.9 L-13.3,2.3 L-11.2,-2.3 Z" fill="#505050"/><path d="M0.9,-6.6 L4.4,-8 L8.8,-6 L9.6,-3.6 L3,-1.6 Z" fill="#1e1e1e" stroke="none"/><path d="M-6.2,2.2 L9.8,-3.6 L10.2,-1 L-5.2,4.8 Z" fill="#f4f4f4" stroke="#333" stroke-width="0.4"/><path d="M-10.4,-4.6 L-6,-6.2 L-2.4,-4.8 L-6.8,-2.8 Z" fill="#cfcfcf" stroke="none"/><path d="M-9.4,-1.2 L-4.4,-2.4 L-3.8,0 L-8.6,1 Z" fill="#e2e2e2" stroke="none"/><path d="M1,4.4 L8.4,2.4 L10.4,4.4 L6.4,6.4 L1.6,6.2 Z" fill="#9a9a9a" stroke="none"/></g></g>
<text transform="translate(398.9,649.5) scale(0.94,1.07)" class="lbl l2">Подпятник</text>
<text transform="translate(398.9,691.2) scale(0.94,1.07)" class="lbl l2">№6-4шт</text>
<text transform="translate(454.9,649.5) scale(0.94,1.07)" class="lbl l2">Заглушка</text>
<text transform="translate(454.9,657.4) scale(0.94,1.07)" class="lbl l2">евровинта</text>
<text transform="translate(456.0,691.2) scale(0.94,1.07)" class="lbl l2">№7-18шт</text>
<text transform="translate(510.5,649.5) scale(0.94,1.07)" class="lbl l2">Ручка с винтами</text>
<text transform="translate(509.7,691.2) scale(0.94,1.07)" class="lbl l2">№8-1шт</text>
<text transform="translate(566.0,649.5) scale(0.94,1.07)" class="lbl l2">Ключ</text>
<text transform="translate(563.9,691.2) scale(0.94,1.07)" class="lbl l2">№9-1шт</text>
<text transform="translate(622.0,649.5) scale(0.94,1.07)" class="lbl l2">Саморез 4*16</text>
<text transform="translate(624.0,691.2) scale(0.94,1.07)" class="lbl l2">№10-12шт</text>
<g transform="translate(401.7,669.2) scale(0.940)"><g class="ic" fill="#fff" stroke="#333" stroke-width="0.7" stroke-linejoin="round"><path d="M-11.2,-3.4 L6.8,-11.1 Q10,-11.8 10.9,-9.4 Q11,-7.8 9.6,-7.2 V1 Q11.4,1.2 10.9,3 L-9.4,11.6 L-11.2,11 Z"/><path d="M-8.5,-0.9 L9.6,-7.3 M-8.5,7.2 L9.6,1.1 M-8.5,-0.9 V11.2 M-11.2,-3.4 L-8.5,-0.9" fill="none" stroke-width="0.6"/><path d="M-8.5,9 L10.6,1.8" fill="none" stroke-width="0.4" stroke="#777"/><ellipse cx="-6" cy="2.6" rx="1.6" ry="2.2" transform="rotate(15 -6 2.6)" stroke-width="0.8"/><ellipse cx="6.7" cy="-2.3" rx="1.6" ry="2.2" transform="rotate(15 6.7 -2.3)" stroke-width="0.8"/></g></g>
<g transform="translate(454.2,668.0) scale(0.940)"><g class="ic" stroke="#333" stroke-width="0.7" fill="#fff"><ellipse cx="0.6" cy="0" rx="2.6" ry="7" transform="rotate(-14)"/><ellipse cx="1.4" cy="0.2" rx="1.5" ry="5.6" transform="rotate(-14)" stroke-width="0.5"/><path d="M-1.4,-1.4 H-3.6 Q-4.8,-1.2 -4.8,0.6 Q-4.8,2.2 -3.4,2.2 H-1" /></g></g>
<g transform="translate(509.5,667.5) scale(0.940)"><g class="ic" stroke="#333" stroke-width="0.7" fill="#fff" stroke-linejoin="round"><path d="M-20.5,-1.2 C-10,1.2 10,1.2 20.5,-1.2 C14,6 5,8.6 0,8.6 C-5,8.6 -14,6 -20.5,-1.2 Z"/><path d="M-17.5,1.4 C-9,4.4 9,4.4 17.5,1.4" fill="none" stroke-width="0.5"/><ellipse cx="-21" cy="-0.2" rx="3.6" ry="1.9"/><ellipse cx="21" cy="-0.2" rx="3.6" ry="1.9"/><path d="M-20.5,-10.4 V-5.2 M19.2,-10.4 V-5.2" stroke="#111" stroke-width="1.6" fill="none"/><path d="M-22,-11.2 H-19 M17.7,-11.2 H20.7" stroke="#111" stroke-width="1.2" fill="none"/></g></g>
<g transform="translate(566.3,668.5) scale(0.940)"><g class="ic" fill="none" stroke-linejoin="round" stroke-linecap="round"><path d="M-12.6,-5.4 L-12,4.6 Q-11.6,7 -9.4,5.8 L10.6,-5.6 Q12.6,-6.6 12.7,-4.4 L12.9,3" stroke="#2a2a2a" stroke-width="3.3"/><path d="M-12.6,-5.4 L-12,4.6 Q-11.6,7 -9.4,5.8 L10.6,-5.6 Q12.6,-6.6 12.7,-4.4 L12.9,3" stroke="#fff" stroke-width="1.6"/><path d="M-12.6,-5.6 L-12.5,-3.6 M12.85,1.2 L12.9,3" stroke="#555" stroke-width="2.6" stroke-linecap="butt"/></g></g>
<g transform="translate(623.5,659.0) scale(0.940)"><g class="ic" stroke="#222" stroke-width="0.7"><path d="M-2.1,2 L-2.1,18.0 L0,22.0 L2.1,18.0 L2.1,2 Z" fill="#aaa"/><path d="M-2.9,4.0 L2.9,3.2" stroke="#222" stroke-width="0.9" fill="none"/><path d="M-2.9,6.2 L2.9,5.4" stroke="#222" stroke-width="0.9" fill="none"/><path d="M-2.9,8.4 L2.9,7.6" stroke="#222" stroke-width="0.9" fill="none"/><path d="M-2.9,10.6 L2.9,9.8" stroke="#222" stroke-width="0.9" fill="none"/><path d="M-2.9,12.8 L2.9,12.0" stroke="#222" stroke-width="0.9" fill="none"/><path d="M-2.9,15.0 L2.9,14.2" stroke="#222" stroke-width="0.9" fill="none"/><path d="M-2.9,17.2 L2.9,16.4" stroke="#222" stroke-width="0.9" fill="none"/><path d="M-2.9,19.4 L2.9,18.6" stroke="#222" stroke-width="0.9" fill="none"/><path d="M-5.6,0 Q-4,2.6 -2,3 H2 Q4,2.6 5.6,0 Z" fill="#8a8a8a"/><ellipse cx="0" cy="0" rx="5.7" ry="2.5" fill="#fff"/><path d="M-2.6,0 H2.6 M0,-1.3 V1.3" stroke-width="1" fill="none"/></g></g>
</g>

</svg>
</body></html>
